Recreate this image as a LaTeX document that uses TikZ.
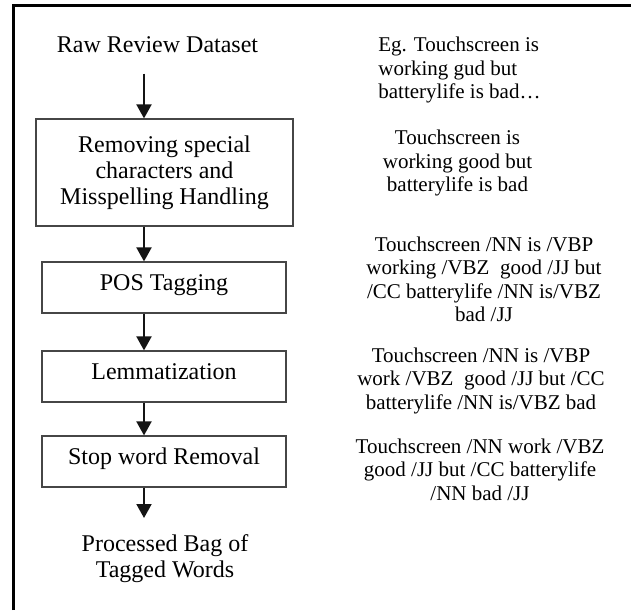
\documentclass[tikz,border=0pt]{standalone}
\usepackage{fontspec}
\setmainfont{Liberation Serif}
\usepackage{tikz}
\usetikzlibrary{arrows.meta, positioning}
\definecolor{mydark}{RGB}{20,20,20}
\definecolor{boxgray}{RGB}{70,70,70}
\tikzset{
  stepbox/.style={rectangle, draw=boxgray, line width=0.6pt, align=center,
    font=\fontsize{12}{13}\selectfont, inner sep=0pt},
  onestep/.style={stepbox, minimum width=122pt, minimum height=25.5pt,
    text height=8pt, text depth=5pt},
  flowlabel/.style={align=center, font=\fontsize{12}{13.3}\selectfont,
    inner xsep=0pt, inner ysep=8pt},
  sample/.style={align=center, font=\fontsize{10.5}{11.7}\selectfont,
    inner sep=0pt, anchor=north},
  arrow/.style={-{Triangle[width=7.5pt,length=7pt]}, line width=1pt, color=mydark},
  frame/.style={line width=1.3pt, color=black}
}

\begin{document}
\begin{tikzpicture}[x=0.5pt, y=-0.5pt]
    \useasboundingbox (0,0) rectangle (631,610);
    % outer frame, only top and left edges show
    \draw[frame] (13.7,610) -- (13.7,5.3) -- (631,5.3);

    % pipeline
    \node[flowlabel, anchor=base, inner ysep=10pt] (raw) at (157.5,53) {Raw Review Dataset};
    \node[stepbox, minimum width=128.5pt, minimum height=53.5pt] (clean) at (164.5,172.5)
        {Removing special\\characters and\\Misspelling Handling};
    \node[onestep] (pos) at (164,287.5) {POS Tagging};
    \node[onestep] (lemma) at (164,376.5) {Lemmatization};
    \node[onestep] (stop) at (164,461.5) {Stop word Removal};
    \node[flowlabel, anchor=north] (bag) at (165,518) {Processed Bag of\\Tagged Words};

    % arrows share one vertical line left of the box centres
    \coordinate (ax) at (144,0);
    \draw[arrow] (raw.south -| ax) -- (clean.north -| ax);
    \draw[arrow] (clean.south -| ax) -- (pos.north -| ax);
    \draw[arrow] (pos.south -| ax) -- (lemma.north -| ax);
    \draw[arrow] (lemma.south -| ax) -- (stop.north -| ax);
    \draw[arrow] (stop.south -| ax) -- (bag.north -| ax);

    % example sentence after each step
    \node[sample, anchor=north west, align=left] (egtext) at (378,36.7)
        {Eg. Touchscreen is\\working gud but\\batterylife is bad…};
    \node[sample] (cleantext) at (457.5,129.7)
        {Touchscreen is\\working good but\\batterylife is bad};
    \node[sample] (postext) at (484,236.5)
        {Touchscreen /NN is /VBP\\working /VBZ\ \ good /JJ but\\/CC batterylife /NN is/VBZ\\bad /JJ};
    \node[sample] (lemtext) at (481,347.5)
        {Touchscreen /NN is /VBP\\work /VBZ\ \ good /JJ but /CC\\batterylife /NN is/VBZ bad};
    \node[sample] (stoptext) at (480,438.5)
        {Touchscreen /NN work /VBZ\\good /JJ but /CC batterylife\\/NN bad /JJ};
\end{tikzpicture}
\end{document}
